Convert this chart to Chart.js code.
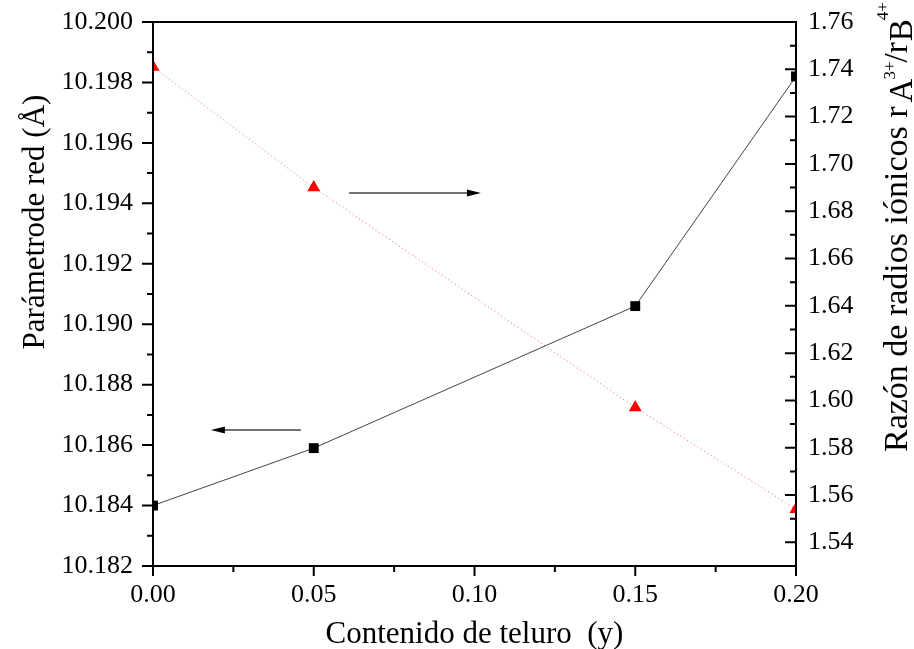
<!DOCTYPE html>
<html>
<head>
<meta charset="utf-8">
<script src="https://cdn.jsdelivr.net/npm/chart.js@4"></script>
<style>
  body { margin: 0; background: #fff; }
</style>
</head>
<body>
<canvas id="chart" width="914" height="649"></canvas>
<script>
// Datos
const teluro = [0, 0.05, 0.15, 0.20];
const parametroRed = [10.1840, 10.1859, 10.1906, 10.1982];
const razonRadios = [1.741, 1.690, 1.597, 1.554];

// flechas: [x inicio, x fin, valor y, eje]
const flechas = [
    [0.061, 0.102, 1.6877, 'y2'],
    [0.046, 0.018, 10.1865, 'y']
];

const fuente = 'Liberation Serif, Times New Roman, serif';

function isMajorX(v) { return Math.round(v * 1000) % 50 === 0; }
function isMajorY(v) { return Math.round(v * 1000) % 2 === 0; }
function isMajorY2(v) { return Math.round(v * 100) % 2 === 0; }

const ejesPlugin = {
    id: 'ejes',
    afterDraw(chart) {
        const ctx = chart.ctx;
        const a = chart.chartArea;
        const sx = chart.scales.x, sy = chart.scales.y, sy2 = chart.scales.y2;
        ctx.save();
        ctx.strokeStyle = '#000';
        ctx.lineWidth = 2;
        ctx.strokeRect(a.left, a.top, a.right - a.left, a.bottom - a.top);

        // marcas
        ctx.beginPath();
        sx.ticks.forEach(t => {
            const px = sx.getPixelForValue(t.value);
            const len = isMajorX(t.value) ? 10 : 6;
            ctx.moveTo(px, a.bottom);
            ctx.lineTo(px, a.bottom + len);
        });
        sy.ticks.forEach(t => {
            const py = sy.getPixelForValue(t.value);
            const len = isMajorY(t.value) ? 11 : 6;
            ctx.moveTo(a.left, py);
            ctx.lineTo(a.left - len, py);
        });
        sy2.ticks.forEach(t => {
            const py = sy2.getPixelForValue(t.value);
            const len = isMajorY2(t.value) ? 11 : 6;
            ctx.moveTo(a.right, py);
            ctx.lineTo(a.right - len, py);
        });
        ctx.stroke();

        // flechas
        flechas.forEach(f => {
            const x0 = sx.getPixelForValue(f[0]);
            const x1 = sx.getPixelForValue(f[1]);
            const y = chart.scales[f[3]].getPixelForValue(f[2]);
            const dir = x1 > x0 ? 1 : -1;
            ctx.strokeStyle = '#444';
            ctx.lineWidth = 1.3;
            ctx.beginPath();
            ctx.moveTo(x0, y);
            ctx.lineTo(x1 - dir * 12, y);
            ctx.stroke();
            ctx.fillStyle = '#000';
            ctx.beginPath();
            ctx.moveTo(x1, y);
            ctx.lineTo(x1 - dir * 14, y - 3.5);
            ctx.lineTo(x1 - dir * 14, y + 3.5);
            ctx.closePath();
            ctx.fill();
        });

        // titulos
        ctx.fillStyle = '#000';
        ctx.font = '31px ' + fuente;
        ctx.textAlign = 'center';
        ctx.textBaseline = 'alphabetic';
        ctx.fillText('Contenido de teluro  (y)', (a.left + a.right) / 2, 643);

        ctx.save();
        ctx.translate(44, 222);
        ctx.rotate(-Math.PI / 2);
        ctx.fillText('Parámetrode red (Å)', 0, 0);
        ctx.restore();

        // eje derecho con subindices y superindices
        // [texto, tamaño, linea base (x en pantalla), desplazamiento antes]
        ctx.save();
        ctx.rotate(-Math.PI / 2);
        ctx.textAlign = 'left';
        let pos = -452;
        const piezas = [
            ['Razón de radios iónicos r', 34, 907, 0],
            ['A', 33, 912, 4],
            ['3+', 17, 895, -1],
            ['/r', 33, 907, -1],
            ['B', 33, 912, 1],
            ['4+', 17, 888, -1]
        ];
        piezas.forEach(p => {
            ctx.font = p[1] + 'px ' + fuente;
            pos += p[3];
            ctx.fillText(p[0], pos, p[2]);
            pos += ctx.measureText(p[0]).width;
        });
        ctx.restore();

        ctx.restore();
    }
};

function sinRellenoV(s) { s.paddingTop = 0; s.paddingBottom = 0; }

new Chart(document.getElementById('chart'), {
    type: 'scatter',
    data: {
        datasets: [
            {
                label: 'Parámetro de red',
                data: teluro.map((x, i) => ({ x: x, y: parametroRed[i] })),
                yAxisID: 'y',
                showLine: true,
                borderColor: '#444',
                borderWidth: 1,
                backgroundColor: '#000',
                pointBorderColor: '#000',
                pointStyle: 'rect',
                pointRadius: 7,
                pointBorderWidth: 0,
                clip: 0
            },
            {
                label: 'Razón de radios',
                data: teluro.map((x, i) => ({ x: x, y: razonRadios[i] })),
                yAxisID: 'y2',
                showLine: true,
                borderColor: 'rgba(255,40,40,0.75)',
                borderWidth: 1,
                borderDash: [1, 3],
                backgroundColor: '#ff0000',
                pointBorderColor: '#ff0000',
                pointStyle: 'triangle',
                pointRadius: 7.5,
                pointBorderWidth: 0,
                clip: 0
            }
        ]
    },
    options: {
        responsive: false,
        animation: false,
        layout: { padding: { top: 22, left: 0, right: 0, bottom: 0 } },
        plugins: {
            legend: { display: false },
            tooltip: { enabled: false }
        },
        scales: {
            x: {
                type: 'linear',
                min: 0,
                max: 0.2,
                grid: { display: false, drawTicks: false },
                border: { display: false },
                ticks: {
                    stepSize: 0.025,
                    autoSkip: false,
                    maxRotation: 0,
                    padding: 14,
                    color: '#000',
                    font: { family: fuente, size: 26 },
                    callback: v => isMajorX(v) ? v.toFixed(2) : ''
                },
                afterFit: s => { s.height = 83; s.paddingLeft = 0; s.paddingRight = 0; }
            },
            y: {
                position: 'left',
                min: 10.182,
                max: 10.200,
                grid: { display: false, drawTicks: false },
                border: { display: false },
                ticks: {
                    stepSize: 0.001,
                    autoSkip: false,
                    padding: 20,
                    color: '#000',
                    font: { family: fuente, size: 26 },
                    callback: v => isMajorY(v) ? v.toFixed(3) : ''
                },
                afterFit: s => { s.width = 153; sinRellenoV(s); }
            },
            y2: {
                position: 'right',
                min: 1.53,
                max: 1.76,
                grid: { display: false, drawTicks: false },
                border: { display: false },
                ticks: {
                    stepSize: 0.01,
                    autoSkip: false,
                    padding: 12,
                    color: '#000',
                    font: { family: fuente, size: 26 },
                    callback: v => isMajorY2(v) ? v.toFixed(2) : ''
                },
                afterFit: s => { s.width = 118; sinRellenoV(s); }
            }
        }
    },
    plugins: [ejesPlugin]
});
</script>
</body>
</html>
